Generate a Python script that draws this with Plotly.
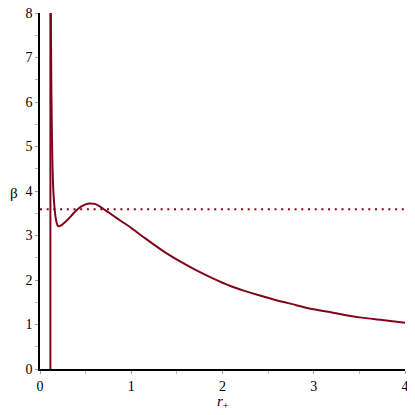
import plotly.graph_objects as go

# beta(r+)
r_branch = [0.119, 0.122, 0.126, 0.131, 0.137, 0.143, 0.150, 0.158, 0.166, 0.175,
            0.185, 0.195, 0.205, 0.22, 0.24, 0.27, 0.31, 0.35, 0.40, 0.45,
            0.50, 0.545, 0.60, 0.65, 0.70, 0.80, 0.90, 1.00, 1.15, 1.35,
            1.55, 1.71, 1.90, 2.08, 2.25, 2.41, 2.60, 2.80, 2.955, 3.2,
            3.5, 3.75, 4.0]
beta_branch = [8.0, 7.0, 6.0, 5.2, 4.55, 4.15, 3.87, 3.65, 3.48, 3.36,
               3.27, 3.22, 3.21, 3.215, 3.24, 3.29, 3.37, 3.46, 3.57, 3.65,
               3.70, 3.72, 3.71, 3.66, 3.59, 3.45, 3.31, 3.17, 2.94, 2.65,
               2.40, 2.22, 2.03, 1.87, 1.75, 1.65, 1.54, 1.44, 1.36, 1.27,
               1.16, 1.10, 1.04]

# vertical jump at the asymptote
r_asym = [0.114, 0.114]
beta_asym = [-1, 9]

# horizontal dotted level
r_level = [0, 4]
beta_level = [3.59, 3.59]

red = 'rgb(128,4,26)'
serif = 'Liberation Serif, Times New Roman, serif'

fig = go.Figure()
fig.add_trace(go.Scatter(x=r_asym, y=beta_asym, mode='lines',
                         line=dict(color=red, width=2)))
fig.add_trace(go.Scatter(x=r_branch, y=beta_branch, mode='lines',
                         line=dict(color=red, width=2, shape='spline', smoothing=0.6)))
fig.add_trace(go.Scatter(x=r_level, y=beta_level, mode='lines',
                         line=dict(color=red, width=2, dash='2px,4.7px')))

# page body has an 8px margin, so the figure is 407px and margins are shifted
fig.update_layout(width=407, height=407,
                  margin=dict(l=32, r=10, t=5, b=46),
                  paper_bgcolor='white', plot_bgcolor='white',
                  showlegend=False,
                  font=dict(family=serif, size=14, color='black'))

fig.update_xaxes(range=[0, 4], tickvals=[0, 1, 2, 3, 4], showgrid=False, zeroline=False,
                 showline=True, linecolor='black', linewidth=1.5, automargin=False,
                 ticks='outside', ticklen=3, tickcolor='#999', ticklabeloverflow='allow',
                 minor=dict(dtick=0.5, ticks='outside', ticklen=3, tickcolor='#bbb'))
fig.update_yaxes(range=[0, 8], tickvals=list(range(9)), showgrid=False, zeroline=False,
                 showline=True, linecolor='black', linewidth=1.5, automargin=False,
                 ticks='outside', ticklen=3, tickcolor='#999', ticklabeloverflow='allow',
                 minor=dict(dtick=0.5, ticks='outside', ticklen=3, tickcolor='#bbb'))

# axis labels placed like the reference (beta horizontal)
fig.add_annotation(text='β', xref='paper', yref='paper', x=-0.088, y=0.494,
                   showarrow=False, font=dict(family=serif, size=15))
fig.add_annotation(text='<i>r</i><sub>+</sub>', xref='paper', yref='paper', x=0.5, y=-0.094,
                   showarrow=False, yanchor='middle', font=dict(family=serif, size=15))

fig.write_html("out.html")
